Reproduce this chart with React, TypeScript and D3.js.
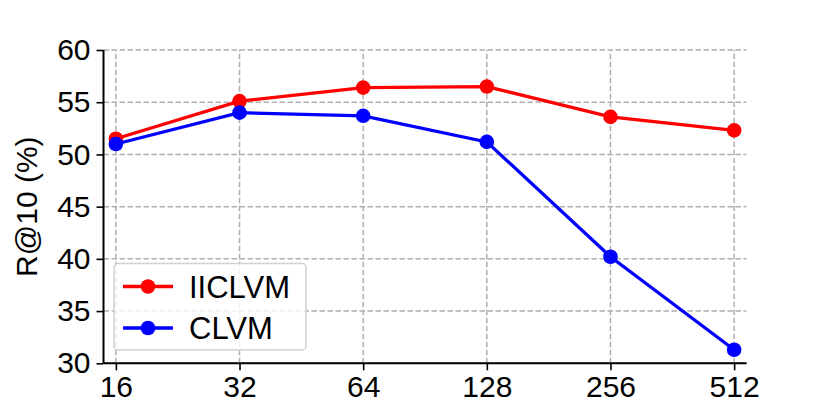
import React, { useEffect, useRef } from 'react'
import * as d3 from 'd3'

const categories = ['16', '32', '64', '128', '256', '512']
const iiclvm = [51.5, 55.1, 56.4, 56.5, 53.6, 52.3]
const clvm = [51.0, 54.0, 53.7, 51.2, 40.2, 31.3]
const yTicks = [30, 35, 40, 45, 50, 55, 60]

const series = [
  { name: 'IICLVM', values: iiclvm, color: '#ff0000' },
  { name: 'CLVM', values: clvm, color: '#0000ff' },
]

const width = 830
const height = 415
const margin = { top: 50, right: 83.5, bottom: 51.7, left: 103.5 }
const font = 'Arial, "Liberation Sans", Helvetica, sans-serif'

export default function App() {
  const ref = useRef<SVGSVGElement>(null)

  useEffect(() => {
    const svg = d3.select(ref.current)
    svg.selectAll('*').remove()

    const x0 = margin.left
    const x1 = width - margin.right
    const y0 = height - margin.bottom
    const y1 = margin.top

    const x = d3.scalePoint<string>().domain(categories).range([x0, x1]).padding(0.1)
    const y = d3.scaleLinear().domain([30, 60]).range([y0, y1])

    // grid
    const grid = svg.append('g')
    grid
      .selectAll('line.h')
      .data(yTicks)
      .enter()
      .append('line')
      .attr('x1', x0)
      .attr('x2', x1)
      .attr('y1', (d) => y(d))
      .attr('y2', (d) => y(d))
      .attr('stroke', '#b0b0b0')
      .attr('stroke-width', 1.5)
      .attr('stroke-dasharray', '5.5,2.5')
    grid
      .selectAll('line.v')
      .data(categories)
      .enter()
      .append('line')
      .attr('x1', (d) => x(d)!)
      .attr('x2', (d) => x(d)!)
      .attr('y1', y0)
      .attr('y2', y1)
      .attr('stroke', '#b0b0b0')
      .attr('stroke-width', 1.5)
      .attr('stroke-dasharray', '5.5,2.5')

    // lines
    const line = d3
      .line<number>()
      .x((d, i) => x(categories[i])!)
      .y((d) => y(d))

    series.forEach((s) => {
      svg
        .append('path')
        .datum(s.values)
        .attr('d', line)
        .attr('fill', 'none')
        .attr('stroke', s.color)
        .attr('stroke-width', 3.3)
      svg
        .append('g')
        .selectAll('circle')
        .data(s.values)
        .enter()
        .append('circle')
        .attr('cx', (d, i) => x(categories[i])!)
        .attr('cy', (d) => y(d))
        .attr('r', 7.3)
        .attr('fill', s.color)
    })

    // axes
    const xAxis = svg
      .append('g')
      .attr('transform', `translate(0,${y0})`)
      .call(d3.axisBottom(x).tickSizeOuter(0).tickSize(7).tickPadding(5))
    const yAxis = svg
      .append('g')
      .attr('transform', `translate(${x0},0)`)
      .call(d3.axisLeft(y).tickValues(yTicks).tickSizeOuter(0).tickSize(7).tickPadding(6))
    ;[xAxis, yAxis].forEach((a) => {
      a.select('.domain').attr('stroke', '#000').attr('stroke-width', 2)
      a.selectAll('.tick line').attr('stroke', '#000').attr('stroke-width', 1.6)
      a.selectAll('.tick text')
        .attr('fill', '#000')
        .style('font-family', font)
        .style('font-size', '30px')
    })
    xAxis.select('.domain').attr('d', `M${x0},0H${x1}`)
    yAxis.select('.domain').attr('d', `M0,${y0}V${y1}`)

    // y label
    svg
      .append('text')
      .attr('transform', `translate(37,${(y0 + y1) / 2}) rotate(-90)`)
      .attr('text-anchor', 'middle')
      .style('font-family', font)
      .style('font-size', '30px')
      .attr('fill', '#000')
      .text('R@10 (%)')

    // legend
    const lg = svg.append('g').attr('transform', 'translate(114,263.5)')
    lg.append('rect')
      .attr('width', 192)
      .attr('height', 86.5)
      .attr('rx', 4)
      .attr('fill', 'rgba(255,255,255,0.8)')
      .attr('stroke', '#d0d0d0')
      .attr('stroke-width', 1.5)
    series.forEach((s, i) => {
      const row = lg.append('g').attr('transform', `translate(0,${23 + i * 41.5})`)
      row.append('line')
        .attr('x1', 9)
        .attr('x2', 59)
        .attr('stroke', s.color)
        .attr('stroke-width', 3.3)
      row.append('circle').attr('cx', 34).attr('r', 7.3).attr('fill', s.color)
      row.append('text')
        .attr('x', 75)
        .attr('dy', '0.36em')
        .style('font-family', font)
        .style('font-size', '31px')
        .attr('fill', '#000')
        .text(s.name)
    })
  }, [])

  return (
    <svg
      ref={ref}
      width={width}
      height={height}
      style={{ position: 'absolute', left: 0, top: 0, background: '#fff' }}
    />
  )
}
